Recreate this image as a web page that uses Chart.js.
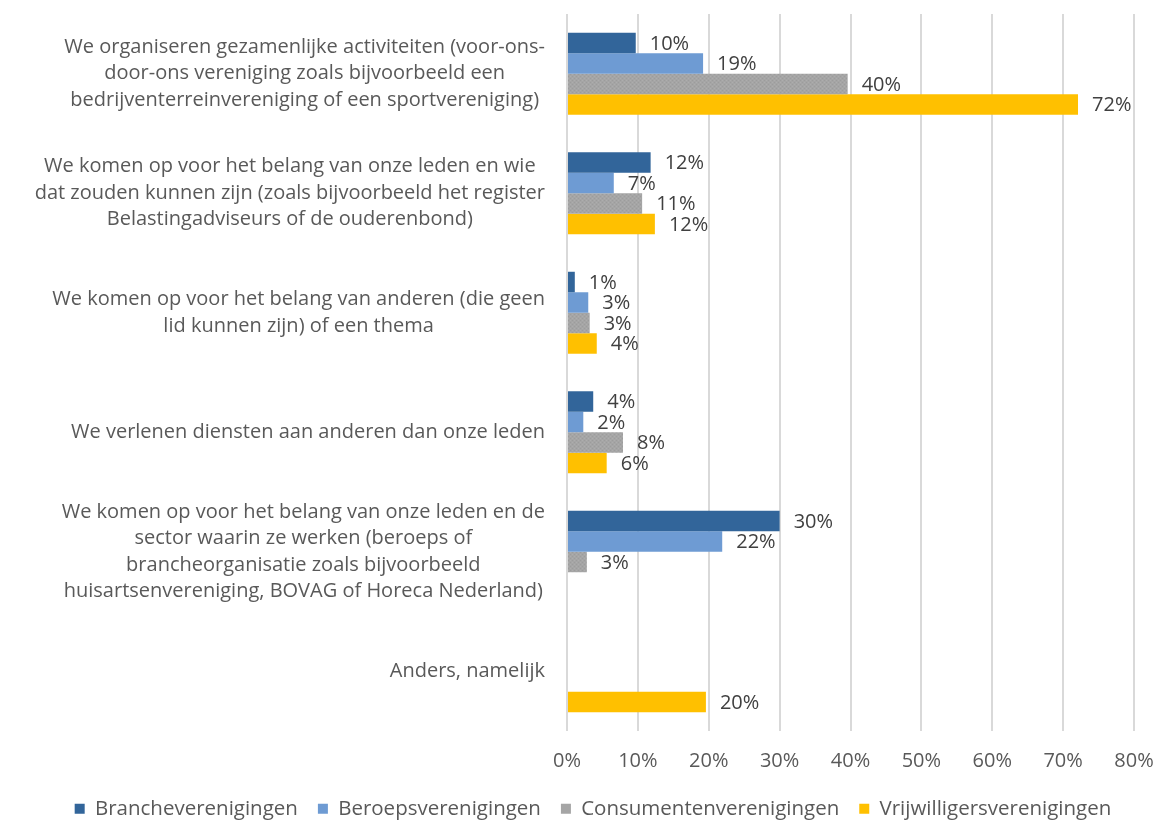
<!DOCTYPE html>
<html>
<head>
<meta charset="utf-8">
<script src="https://cdn.jsdelivr.net/npm/chart.js@4"></script>
<style>
  html, body { margin: 0; padding: 0; background: #fff; }
  #wrap { width: 1168px; height: 829px; position: relative; }
</style>
</head>
<body>
<div id="wrap"><canvas id="chart"></canvas></div>
<script>
/* ==========================================
   DATA
========================================== */

const categories = [
    ["We organiseren gezamenlijke activiteiten (voor-ons-", "door-ons vereniging zoals bijvoorbeeld een", "bedrijventerreinvereniging of een sportvereniging)"],
    ["We komen op voor het belang van onze leden en wie", "dat zouden kunnen zijn (zoals bijvoorbeeld het register", "Belastingadviseurs of de ouderenbond)"],
    ["We komen op voor het belang van anderen (die geen", "lid kunnen zijn) of een thema"],
    ["We verlenen diensten aan anderen dan onze leden"],
    ["We komen op voor het belang van onze leden en de", "sector waarin ze werken (beroeps of", "brancheorganisatie zoals bijvoorbeeld", "huisartsenvereniging, BOVAG of Horeca Nederland)"],
    ["Anders, namelijk"]
];

const seriesNames = [
    "Brancheverenigingen",
    "Beroepsverenigingen",
    "Consumentenverenigingen",
    "Vrijwilligersverenigingen"
];

const branche       = [9.7, 11.8, 1.1, 3.7, 30.0, null];
const beroeps       = [19.2, 6.6, 3.0, 2.3, 21.9, null];
const consumenten   = [39.6, 10.6, 3.2, 7.9, 2.8, null];
const vrijwilligers = [72.1, 12.4, 4.2, 5.6, null, 19.6];

const xTicks = [0, 10, 20, 30, 40, 50, 60, 70, 80];

/* ==========================================
   STYLE
========================================== */

const FONT = "'Open Sans', 'Liberation Sans', sans-serif";
const TEXT = "#595959";

Chart.defaults.font.family = FONT;
Chart.defaults.color = TEXT;

// grey bars in the original have a fine speckled fill
function speckle() {
    const c = document.createElement("canvas");
    c.width = 4; c.height = 4;
    const g = c.getContext("2d");
    g.fillStyle = "#A5A5A5";
    g.fillRect(0, 0, 4, 4);
    g.fillStyle = "#9C9C9C";
    g.fillRect(0, 0, 1, 1);
    g.fillRect(2, 2, 1, 1);
    g.fillStyle = "#ADADAD";
    g.fillRect(2, 0, 1, 1);
    g.fillRect(0, 2, 1, 1);
    return g.createPattern(c, "repeat");
}

const colors = ["#32659A", "#6E9BD3", speckle(), "#FFC000"];
const legendColors = ["#32659A", "#6E9BD3", "#A5A5A5", "#FFC000"];

/* ==========================================
   PLUGINS
========================================== */

// value labels at the end of each bar
const valueLabels = {
    id: "valueLabels",
    afterDatasetsDraw(chart) {
        const ctx = chart.ctx;
        ctx.save();
        ctx.font = "20px " + FONT;
        ctx.fillStyle = "#404040";
        ctx.textAlign = "left";
        ctx.textBaseline = "middle";
        chart.data.datasets.forEach((ds, i) => {
            const meta = chart.getDatasetMeta(i);
            meta.data.forEach((bar, j) => {
                const v = ds.data[j];
                if (v === null) return;
                ctx.fillText(Math.round(v) + "%", bar.x + 14, bar.y + 1);
            });
        });
        ctx.restore();
    }
};

// category labels: each block right aligned, its lines centred
const categoryLabels = {
    id: "categoryLabels",
    afterDraw(chart) {
        const ctx = chart.ctx;
        const y = chart.scales.y;
        const right = chart.chartArea.left - 22;
        const lh = 26.5;
        ctx.save();
        // size the font so the widest line is as wide as in the original
        ctx.font = "20px " + FONT;
        const widest = Math.max(...categories.flat().map(l => ctx.measureText(l).width));
        const size = Math.min(20, 20 * 512 / widest);
        ctx.font = size.toFixed(2) + "px " + FONT;
        ctx.fillStyle = TEXT;
        ctx.textAlign = "center";
        ctx.textBaseline = "middle";
        categories.forEach((lines, i) => {
            const w = Math.max(...lines.map(l => ctx.measureText(l).width));
            const cx = right - w / 2;
            const cy = y.getPixelForValue(i);
            const top = cy - (lines.length - 1) * lh / 2;
            lines.forEach((l, k) => ctx.fillText(l, cx, top + k * lh));
        });
        ctx.restore();
    }
};

/* ==========================================
   CHART
========================================== */

new Chart(document.getElementById("chart"), {

    type: "bar",

    data: {
        labels: categories,
        datasets: [branche, beroeps, consumenten, vrijwilligers].map((d, i) => ({
            label: seriesNames[i],
            data: d,
            backgroundColor: colors[i],
            borderWidth: 0,
            barPercentage: 1,
            categoryPercentage: 0.686
        }))
    },

    options: {
        indexAxis: "y",
        responsive: true,
        maintainAspectRatio: false,
        animation: false,
        layout: {
            padding: { top: 14, right: 34, bottom: 0, left: 52 }
        },
        scales: {
            x: {
                min: 0,
                max: 80,
                afterBuildTicks: s => { s.ticks = xTicks.map(v => ({ value: v })); },
                afterFit: s => {
                    s.height = 47.5;
                    s.paddingLeft = 0;
                    s.paddingRight = 0;
                },
                ticks: {
                    padding: 18,
                    color: TEXT,
                    font: { size: 20 },
                    callback: v => v + "%"
                },
                grid: {
                    color: "#D9D9D9",
                    lineWidth: 2,
                    drawTicks: false
                },
                border: { display: false }
            },
            y: {
                afterFit: s => { s.width = 515; },
                ticks: { display: false },
                grid: { display: false },
                border: { display: false }
            }
        },
        plugins: {
            legend: {
                position: "bottom",
                labels: {
                    boxWidth: 10,
                    boxHeight: 10,
                    padding: 20,
                    color: TEXT,
                    font: { size: 20.5 },
                    generateLabels: chart => chart.data.datasets.map((ds, i) => ({
                        text: ds.label,
                        fillStyle: legendColors[i],
                        strokeStyle: legendColors[i],
                        lineWidth: 0,
                        fontColor: TEXT,
                        datasetIndex: i
                    }))
                }
            },
            tooltip: { enabled: false }
        }
    },

    plugins: [valueLabels, categoryLabels]

});
</script>
</body>
</html>
